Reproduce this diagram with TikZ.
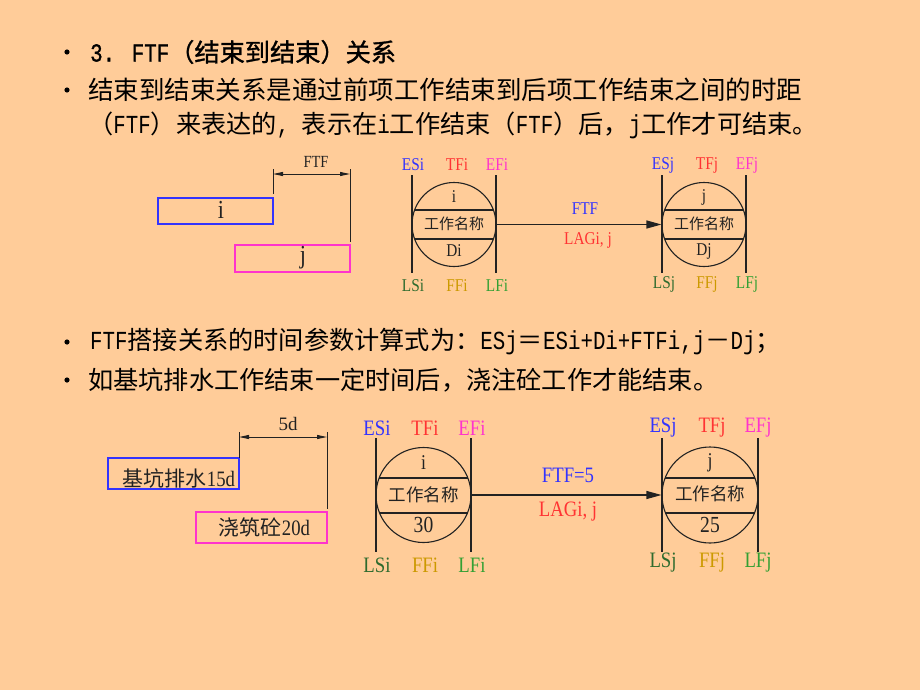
\documentclass[tikz,border=0pt]{standalone}
\usepackage{fontspec}
\setmainfont{Liberation Serif}
\newfontfamily\nar[FakeStretch=0.85]{Liberation Serif}
\newfontfamily\latf[FakeStretch=0.8]{Liberation Mono}
\newfontfamily\latfb[FakeStretch=0.8,FakeBold=1.2]{Liberation Mono}
\newfontfamily\cjk{Noto Sans CJK SC}
\newfontfamily\cjkb[FakeBold=1.2]{Noto Sans CJK SC}
\newcommand\lt[1]{{\latf\fontsize{26}{26}\selectfont #1}}
\newcommand\ltb[1]{{\latfb\fontsize{26}{26}\selectfont #1}}
\usetikzlibrary{arrows.meta}
\definecolor{bg}{HTML}{FFCC99}
\definecolor{cES}{HTML}{3333FF}
\definecolor{cTF}{HTML}{FF3333}
\definecolor{cEF}{HTML}{FF33CC}
\definecolor{cLS}{HTML}{2E6B2E}
\definecolor{cFF}{HTML}{CC9900}
\definecolor{cLF}{HTML}{33A033}
\definecolor{boxblue}{HTML}{3333FF}
\definecolor{boxmag}{HTML}{FF33CC}
\definecolor{ink}{HTML}{222222}
\tikzset{
  main/.style={font=\cjk\fontsize{25.2}{25.2}\selectfont, anchor=west, inner sep=0, text=black},
  mainb/.style={font=\cjkb\fontsize{25.2}{25.2}\selectfont, anchor=west, inner sep=0, text=black},
  slab/.style={font=\nar\fontsize{18}{18}\selectfont, inner sep=0},
  blab/.style={font=\nar\fontsize{22}{22}\selectfont, inner sep=0},
  wname/.style={font=\cjk\fontsize{15}{15}\selectfont, inner sep=0, text=ink},
  bwname/.style={font=\cjk\fontsize{17.5}{17.5}\selectfont, inner sep=0, text=ink},
  inlab/.style={font=\nar\fontsize{18}{18}\selectfont, inner sep=0, text=ink},
  binlab/.style={font=\nar\fontsize{23}{23}\selectfont, inner sep=0, text=ink},
  vline/.style={draw=ink, line width=1.1pt},
  chord/.style={draw=ink, line width=1.1pt},
  wcirc/.style={circle, draw=ink, line width=1.1pt, inner sep=0},
  flow/.style={draw=ink, line width=1.1pt, -{Triangle[length=15pt,width=8pt]}},
  dim/.style={draw=ink, line width=1pt, {Triangle[length=10pt,width=4pt]}-{Triangle[length=10pt,width=4pt]}},
  bar/.style={draw, line width=1.3pt, inner sep=0},
  barlab/.style={font=\nar\fontsize{26}{26}\selectfont, inner sep=0, text=ink},
  bbarlab/.style={font=\cjk\fontsize{21}{21}\selectfont, inner sep=0, text=ink},
}
\begin{document}
\begin{tikzpicture}[x=1pt,y=-1pt]
\fill[bg] (0,0) rectangle (920,690);
\useasboundingbox (0,0) rectangle (920,690);

% bullets
\foreach \yy in {52,90,342,380} \fill (67,\yy) circle (2.6pt);

% text lines
\node[mainb] (t1) at (90,52) {\ltb{3. FTF}（结束到结束）关系};
\node[main, font=\cjk\fontsize{25.5}{25.5}\selectfont] (t2) at (88,90) {结束到结束关系是通过前项工作结束到后项工作结束之间的时距};
\node[main] (t3) at (88,125) {（\lt{FTF}）来表达的\lt{, }表示在\lt{i}工作结束（\lt{FTF}）后，\lt{j}工作才可结束。};
\node[main] (t4) at (90,342) {\lt{FTF}搭接关系的时间参数计算式为：\lt{ESj}＝\lt{ESi+Di+FTFi,j}－\lt{Dj}；};
\node[main] (t5) at (88,380) {如基坑排水工作结束一定时间后，浇注砼工作才能结束。};

% ---------- top bars ----------
\node[bar, draw=boxblue, minimum width=115pt, minimum height=26pt] (bi) at (215.5,211) {};
\node[barlab] (bil) at (221,210) {i};
\node[bar, draw=boxmag, minimum width=115pt, minimum height=27pt] (bj) at (292.5,258.5) {};
\node[barlab] (bjl) at (303,258) {j};
\coordinate (da1) at (273,169);
\coordinate (da2) at (273,194);
\coordinate (db1) at (350,169);
\coordinate (db2) at (350,242);
\draw[vline, line width=1pt] (da1) -- (da2);
\draw[vline, line width=1pt] (db1) -- (db2);
\coordinate (dl) at (273,174);
\coordinate (dr) at (350,174);
\draw[dim] (dl) -- (dr);
\node[font=\nar\fontsize{17}{17}\selectfont, inner sep=0, text=ink] (ftfd) at (316,162) {FTF};

% ---------- top node i ----------
\node[wcirc, minimum size=84pt] (ci) at (454,224.5) {};
\begin{scope}
\clip (454,224.5) circle (42pt);
\draw[chord] (400,210) -- (510,210);
\draw[chord] (400,239) -- (510,239);
\end{scope}
\coordinate (ia1) at (412,175); \coordinate (ia2) at (412,273);
\coordinate (ib1) at (496,175); \coordinate (ib2) at (496,273);
\draw[vline] (ia1) -- (ia2);
\draw[vline] (ib1) -- (ib2);
\node[inlab] (ci1) at (454,197) {i};
\node[wname] (ci2) at (454,224) {工作名称};
\node[inlab] (ci3) at (454,251) {Di};
\node[slab, text=cES] (esi) at (413,165) {ESi};
\node[slab, text=cTF] (tfi) at (457,165) {TFi};
\node[slab, text=cEF] (efi) at (497,165) {EFi};
\node[slab, text=cLS] (lsi) at (413,286) {LSi};
\node[slab, text=cFF] (ffi) at (457,286) {FFi};
\node[slab, text=cLF] (lfi) at (497,286) {LFi};

% ---------- top node j ----------
\node[wcirc, minimum size=84pt] (cj) at (704,224.5) {};
\begin{scope}
\clip (704,224.5) circle (42pt);
\draw[chord] (650,210) -- (760,210);
\draw[chord] (650,239) -- (760,239);
\end{scope}
\coordinate (ja1) at (662,175); \coordinate (ja2) at (662,273);
\coordinate (jb1) at (746,175); \coordinate (jb2) at (746,273);
\draw[vline] (ja1) -- (ja2);
\draw[vline] (jb1) -- (jb2);
\node[inlab] (cj1) at (704,197) {j};
\node[wname] (cj2) at (704,224) {工作名称};
\node[inlab] (cj3) at (704,251) {Dj};
\node[slab, text=cES] (esj) at (663,165) {ESj};
\node[slab, text=cTF] (tfj) at (707,165) {TFj};
\node[slab, text=cEF] (efj) at (747,165) {EFj};
\node[slab, text=cLS] (lsj) at (664,284) {LSj};
\node[slab, text=cFF] (ffj) at (707,284) {FFj};
\node[slab, text=cLF] (lfj) at (747,284) {LFj};

\draw[flow] (ci.east) -- (cj.west);
\node[slab, text=cES] (fa) at (585,209) {FTF};
\node[slab, text=cTF] (fb) at (588,240) {LAGi, j};

% ---------- bottom bars ----------
\node[bar, draw=boxblue, minimum width=131pt, minimum height=31pt] (bbi) at (173.5,473.5) {};
\node[bbarlab] (bbil) at (179,478) {基坑排水{\nar\fontsize{22}{22}\selectfont 15d}};
\node[bar, draw=boxmag, minimum width=131pt, minimum height=31pt] (bbj) at (261.5,527.5) {};
\node[bbarlab] (bbjl) at (264.5,527) {浇筑砼{\nar\fontsize{22}{22}\selectfont 20d}};
\coordinate (ea1) at (239,432);
\coordinate (ea2) at (239,458);
\coordinate (eb1) at (327,432);
\coordinate (eb2) at (327,509);
\draw[vline, line width=1pt] (ea1) -- (ea2);
\draw[vline, line width=1pt] (eb1) -- (eb2);
\coordinate (el) at (239,437);
\coordinate (er) at (327,437);
\draw[dim] (el) -- (er);
\node[font=\fontsize{19}{19}\selectfont, inner sep=0, text=ink] (fived) at (288,424) {5d};

% ---------- bottom node i ----------
\node[wcirc, minimum size=95pt] (di) at (423.5,495) {};
\begin{scope}
\clip (423.5,495) circle (47.5pt);
\draw[chord] (360,478) -- (490,478);
\draw[chord] (360,513) -- (490,513);
\end{scope}
\coordinate (ka1) at (376,438); \coordinate (ka2) at (376,552);
\coordinate (kb1) at (471,438); \coordinate (kb2) at (471,552);
\draw[vline] (ka1) -- (ka2);
\draw[vline] (kb1) -- (kb2);
\node[binlab, font=\nar\fontsize{21}{21}\selectfont] (di1) at (423.5,463) {i};
\node[bwname] (di2) at (423.5,495) {工作名称};
\node[binlab] (di3) at (423.5,525) {30};
\node[blab, text=cES] (besi) at (377,428) {ESi};
\node[blab, text=cTF] (btfi) at (425,428) {TFi};
\node[blab, text=cEF] (befi) at (472,428) {EFi};
\node[blab, text=cLS] (blsi) at (377,565) {LSi};
\node[blab, text=cFF] (bffi) at (425,565) {FFi};
\node[blab, text=cLF] (blfi) at (472,565) {LFi};

% ---------- bottom node j ----------
\node[wcirc, minimum size=96pt] (dj) at (710,495) {};
\begin{scope}
\clip (710,495) circle (48pt);
\draw[chord] (650,478) -- (770,478);
\draw[chord] (650,513) -- (770,513);
\end{scope}
\coordinate (ma1) at (662,438); \coordinate (ma2) at (662,552);
\coordinate (mb1) at (758,438); \coordinate (mb2) at (758,552);
\draw[vline] (ma1) -- (ma2);
\draw[vline] (mb1) -- (mb2);
\node[binlab, font=\nar\fontsize{21}{21}\selectfont] (dj1) at (710,463) {j};
\node[bwname] (dj2) at (710,494) {工作名称};
\node[binlab] (dj3) at (710,525) {25};
\node[blab, text=cES] (besj) at (663,428) {ESj};
\node[blab, text=cTF] (btfj) at (712,428) {TFj};
\node[blab, text=cEF] (befj) at (758,428) {EFj};
\node[blab, text=cLS] (blsj) at (663,563) {LSj};
\node[blab, text=cFF] (bffj) at (712,563) {FFj};
\node[blab, text=cLF] (blfj) at (758,563) {LFj};

\draw[flow] (di.east) -- (dj.west);
\node[blab, text=cES] (ga) at (568,475) {FTF=5};
\node[blab, text=cTF] (gb) at (568,512) {LAGi, j};
\end{tikzpicture}
\end{document}
